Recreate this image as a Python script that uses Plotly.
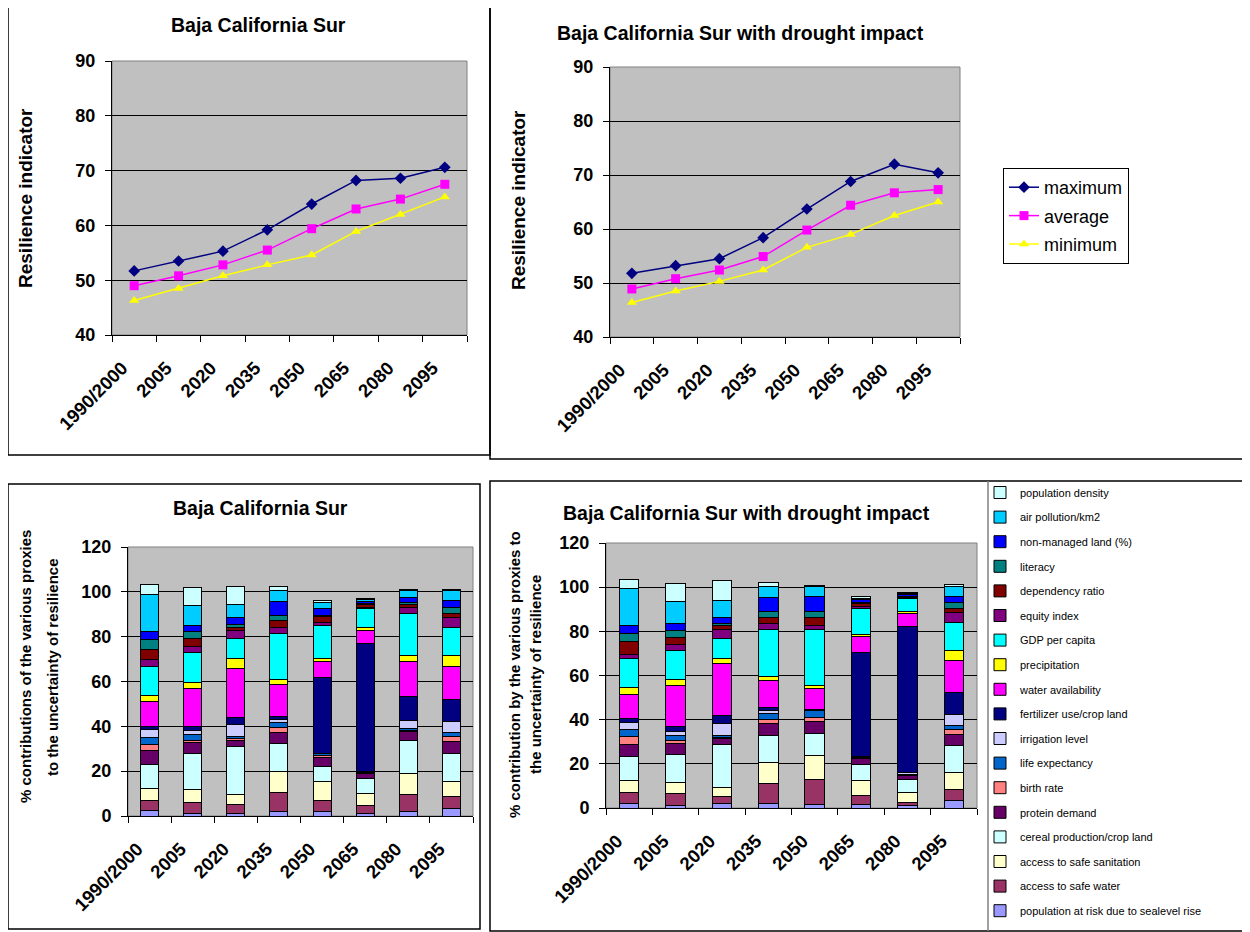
import plotly.graph_objects as go

# ---------------- data ----------------
years = ["1990/2000", "2005", "2020", "2035", "2050", "2065", "2080", "2095"]

# Resilience indicator – baseline
max_base = [51.7, 53.5, 55.3, 59.2, 63.9, 68.2, 68.6, 70.6]
avg_base = [49.0, 50.8, 52.8, 55.5, 59.4, 63.0, 64.8, 67.5]
min_base = [46.3, 48.5, 50.8, 52.8, 54.6, 58.9, 62.0, 65.2]
# Resilience indicator – with drought impact
max_drought = [51.8, 53.2, 54.5, 58.4, 63.7, 68.8, 72.0, 70.4]
avg_drought = [48.9, 50.8, 52.4, 54.9, 59.8, 64.4, 66.7, 67.3]
min_drought = [46.4, 48.5, 50.3, 52.4, 56.6, 59.0, 62.5, 65.0]

# Contributions (%) – baseline, bottom of stack first
sealevel_base = [2.4, 1.0, 1.3, 1.8, 1.8, 1.3, 2.2, 3.4]
safe_water_base = [4.4, 5.2, 3.7, 8.7, 5.3, 3.4, 7.6, 5.5]
sanitation_base = [5.3, 5.5, 4.5, 9.4, 8.3, 5.2, 9.3, 6.5]
cereal_base = [11.0, 16.3, 21.5, 12.5, 6.5, 6.7, 14.8, 12.5]
protein_base = [5.9, 4.6, 2.9, 4.9, 4.0, 2.4, 4.0, 5.3]
birth_base = [2.7, 1.3, 0.8, 2.3, 0.9, 0.3, 0.3, 2.2]
life_base = [3.3, 2.5, 0.9, 2.0, 0.9, 0.1, 0.8, 1.8]
irrigation_base = [3.5, 1.7, 5.0, 1.4, 0.4, 0.5, 3.5, 4.9]
fertilizer_base = [1.4, 2.0, 3.3, 1.6, 33.7, 57.0, 10.8, 9.9]
water_avail_base = [11.1, 16.9, 21.9, 14.2, 7.2, 5.8, 15.7, 14.8]
precip_base = [2.8, 2.6, 4.4, 2.1, 1.2, 1.3, 2.7, 4.6]
gdp_base = [13.0, 13.3, 9.2, 20.7, 14.8, 8.4, 18.7, 12.6]
equity_base = [2.8, 2.7, 3.3, 2.3, 1.2, 0.8, 2.5, 4.4]
dependency_base = [4.9, 3.5, 1.6, 3.2, 2.7, 1.0, 1.5, 2.1]
literacy_base = [4.3, 3.0, 1.3, 2.4, 0.4, 0.5, 1.0, 2.5]
nonmanaged_base = [3.4, 2.8, 3.0, 6.1, 3.4, 1.0, 2.1, 3.1]
air_base = [16.6, 8.9, 5.9, 4.8, 2.7, 0.7, 3.2, 4.3]
density_base = [4.3, 8.1, 8.0, 2.0, 0.6, 0.6, 0.2, 0.5]

# Contributions (%) – with drought impact
sealevel_dr = [2.2, 1.0, 2.0, 1.9, 1.7, 1.4, 1.3, 3.4]
safe_water_dr = [5.0, 5.4, 3.1, 9.2, 11.4, 4.1, 1.3, 4.8]
sanitation_dr = [5.1, 5.1, 4.2, 9.5, 10.7, 7.0, 4.4, 7.7]
cereal_dr = [11.2, 12.9, 19.6, 12.4, 10.1, 7.2, 6.1, 12.2]
protein_dr = [5.3, 4.8, 2.4, 5.1, 5.1, 2.7, 1.5, 5.2]
birth_dr = [3.4, 1.4, 0.8, 2.1, 2.1, 0.3, 0.4, 2.1]
life_dr = [3.5, 2.2, 0.7, 2.4, 3.1, 0.2, 0.3, 1.8]
irrigation_dr = [3.0, 2.0, 5.6, 1.7, 0.1, 0.3, 0.8, 5.1]
fertilizer_dr = [1.7, 2.3, 3.6, 1.4, 0.2, 47.4, 66.3, 10.1]
water_avail_dr = [10.8, 18.4, 23.4, 12.0, 9.7, 7.1, 5.7, 14.6]
precip_dr = [3.2, 2.8, 2.4, 2.0, 1.1, 0.9, 1.1, 4.5]
gdp_dr = [13.1, 12.9, 9.1, 21.0, 25.4, 11.8, 5.7, 12.5]
equity_dr = [2.2, 2.9, 4.1, 3.0, 2.1, 0.9, 0.4, 4.4]
dependency_dr = [5.5, 3.1, 1.6, 2.7, 3.5, 1.3, 0.4, 1.9]
literacy_dr = [4.0, 3.0, 1.1, 2.7, 2.9, 0.5, 0.3, 2.6]
nonmanaged_dr = [3.4, 3.5, 2.7, 6.1, 6.6, 1.2, 0.5, 2.9]
air_dr = [16.9, 9.7, 7.5, 5.0, 4.5, 0.6, 0.6, 4.5]
density_dr = [3.9, 8.4, 9.0, 2.1, 0.3, 1.0, 0.6, 0.7]

proxy_names = [
    "population at risk due to sealevel rise", "access to safe water",
    "access to safe sanitation", "cereal production/crop land", "protein demand",
    "birth rate", "life expectancy", "irrigation level", "fertilizer use/crop land",
    "water availability", "precipitation", "GDP per capita", "equity index",
    "dependency ratio", "literacy", "non-managed land (%)", "air pollution/km2",
    "population density",
]
proxy_colors = [
    "#9999FF", "#993366", "#FFFFCC", "#CCFFFF", "#660066", "#FF8080", "#0066CC",
    "#CCCCFF", "#000080", "#FF00FF", "#FFFF00", "#00FFFF", "#800080", "#800000",
    "#008080", "#0000FF", "#00CCFF", "#CCFFFF",
]
base_series = [sealevel_base, safe_water_base, sanitation_base, cereal_base, protein_base,
               birth_base, life_base, irrigation_base, fertilizer_base, water_avail_base,
               precip_base, gdp_base, equity_base, dependency_base, literacy_base,
               nonmanaged_base, air_base, density_base]
drought_series = [sealevel_dr, safe_water_dr, sanitation_dr, cereal_dr, protein_dr,
                  birth_dr, life_dr, irrigation_dr, fertilizer_dr, water_avail_dr,
                  precip_dr, gdp_dr, equity_dr, dependency_dr, literacy_dr,
                  nonmanaged_dr, air_dr, density_dr]

# ---------------- figure ----------------
W, H = 1250, 932
OFF = 8  # page body margin
FONT = "Liberation Sans, Arial, sans-serif"


def px(x):
    return (x - OFF) / W


def py(y):
    return 1 - (y - OFF) / H


fig = go.Figure()

line_specs = [("maximum", "#000080", "diamond", 9),
              ("average", "#FF00FF", "square", 9),
              ("minimum", "#FFFF00", "triangle-up", 9)]

for (name, color, sym, size), vals in zip(line_specs, [max_base, avg_base, min_base]):
    fig.add_trace(go.Scatter(x=years, y=vals, name=name, mode="lines+markers",
                             line=dict(color=color, width=1.5),
                             marker=dict(symbol=sym, size=size, color=color),
                             xaxis="x", yaxis="y", showlegend=False))
for (name, color, sym, size), vals in zip(line_specs, [max_drought, avg_drought, min_drought]):
    fig.add_trace(go.Scatter(x=years, y=vals, name=name, mode="lines+markers",
                             line=dict(color=color, width=1.5),
                             marker=dict(symbol=sym, size=size, color=color),
                             xaxis="x2", yaxis="y2", legend="legend", showlegend=True,
                             legendgroup="line_" + name))

for i, (name, color) in enumerate(zip(proxy_names, proxy_colors)):
    fig.add_trace(go.Bar(x=years, y=base_series[i], name=name,
                         marker=dict(color=color, line=dict(color="black", width=1)),
                         xaxis="x3", yaxis="y3", showlegend=False, legendgroup=name))
    fig.add_trace(go.Bar(x=years, y=drought_series[i], name=name,
                         marker=dict(color=color, line=dict(color="black", width=1)),
                         xaxis="x4", yaxis="y4", showlegend=True, legend="legend2",
                         legendgroup=name, legendrank=100 - i))

tick_font = dict(family=FONT, size=18, color="black", weight="bold")
xtick_font = dict(family=FONT, size=18.5, color="black", weight="bold")


def xaxis_cfg(domain, anchor):
    return dict(domain=domain, anchor=anchor, type="category", range=[-0.5, 7.5],
                tickson="boundaries", ticks="outside", ticklen=6, tickcolor="black",
                tickangle=-45, showline=True, linecolor="black", linewidth=1,
                showgrid=False, tickfont=xtick_font, automargin=False,
                ticklabelstandoff=14, ticklabelshift=-12)


def yaxis_cfg(domain, anchor, rng, dtick):
    return dict(domain=domain, anchor=anchor, range=rng, dtick=dtick,
                ticks="outside", ticklen=6, tickcolor="black",
                showline=True, linecolor="black", linewidth=1,
                showgrid=True, gridcolor="black", gridwidth=1, zeroline=False,
                tickfont=tick_font, ticklabelstandoff=6, automargin=False)


fig.update_layout(
    width=W, height=H, autosize=False,
    margin=dict(l=0, r=0, t=0, b=0, pad=0),
    paper_bgcolor="white", plot_bgcolor="#C0C0C0",
    barmode="stack", bargap=0.58,
    font=dict(family=FONT, color="black"),
    xaxis=xaxis_cfg([px(112), px(467)], "y"),
    yaxis=yaxis_cfg([py(335), py(61)], "x", [40, 90], 10),
    xaxis2=xaxis_cfg([px(610), px(960)], "y2"),
    yaxis2=yaxis_cfg([py(337), py(67)], "x2", [40, 90], 10),
    xaxis3=xaxis_cfg([px(128), px(473)], "y3"),
    yaxis3=yaxis_cfg([py(816), py(547)], "x3", [0, 120], 20),
    xaxis4=xaxis_cfg([px(606), px(977)], "y4"),
    yaxis4=yaxis_cfg([py(808), py(543)], "x4", [0, 120], 20),
    legend=dict(x=px(1003), y=py(168), xanchor="left", yanchor="top",
                traceorder="grouped", tracegroupgap=2,
                bgcolor="white", bordercolor="black", borderwidth=1,
                font=dict(family=FONT, size=18, color="black")),
    legend2=dict(x=px(980), y=py(926), xanchor="left", yanchor="bottom",
                 traceorder="grouped",
                 bgcolor="rgba(0,0,0,0)", borderwidth=0, tracegroupgap=5.6,
                 font=dict(family=FONT, size=11, color="black")),
)

title_font = dict(family=FONT, size=19.5, color="black", weight="bold")
axis_title_font = dict(family=FONT, size=19, color="black", weight="bold")
bar_axis_font = dict(family=FONT, size=15, color="black", weight="bold")

annotations = [
    dict(text="Baja California Sur", x=px(258), y=py(25), font=title_font),
    dict(text="Baja California Sur with drought impact", x=px(740), y=py(33), font=title_font),
    dict(text="Baja California Sur", x=px(260), y=py(508), font=title_font),
    dict(text="Baja California Sur with drought impact", x=px(747), y=py(513), font=title_font),
    dict(text="Resilience indicator", x=px(25), y=py(198), textangle=-90, font=axis_title_font),
    dict(text="Resilience indicator", x=px(519), y=py(200), textangle=-90, font=axis_title_font),
    dict(text="% contributions of the various proxies", x=px(25), y=py(667),
         textangle=-90, font=bar_axis_font),
    dict(text="to the uncertainty of resilience", x=px(52), y=py(667),
         textangle=-90, font=bar_axis_font),
    dict(text="% contribution by the various proxies to", x=px(514), y=py(675),
         textangle=-90, font=bar_axis_font),
    dict(text="the uncertainty of resilience", x=px(535), y=py(675),
         textangle=-90, font=bar_axis_font),
]
for a in annotations:
    a.update(xref="paper", yref="paper", showarrow=False, xanchor="center", yanchor="middle")
fig.update_layout(annotations=annotations)

shapes = []
# plot-area frames (grey top/right edges)
for xa, ya in [("x", "y"), ("x2", "y2"), ("x3", "y3"), ("x4", "y4")]:
    shapes.append(dict(type="rect", xref=f"{xa} domain", yref=f"{ya} domain",
                       x0=0, x1=1, y0=0, y1=1, line=dict(color="#808080", width=1),
                       layer="below"))
# panel borders
for (x0, y0, x1, y1) in [(8, 3, 490, 455), (490, 3, 1249, 459),
                         (8, 484, 480, 929), (490, 481, 1249, 931)]:
    shapes.append(dict(type="rect", xref="paper", yref="paper",
                       x0=px(x0), x1=px(x1), y0=py(y1), y1=py(y0),
                       line=dict(color="black", width=1.5)))
# legend box edge
shapes.append(dict(type="line", xref="paper", yref="paper", x0=px(988), x1=px(988),
                   y0=py(931), y1=py(481), line=dict(color="#808080", width=1.5)))
fig.update_layout(shapes=shapes)

fig.write_html("out.html")
